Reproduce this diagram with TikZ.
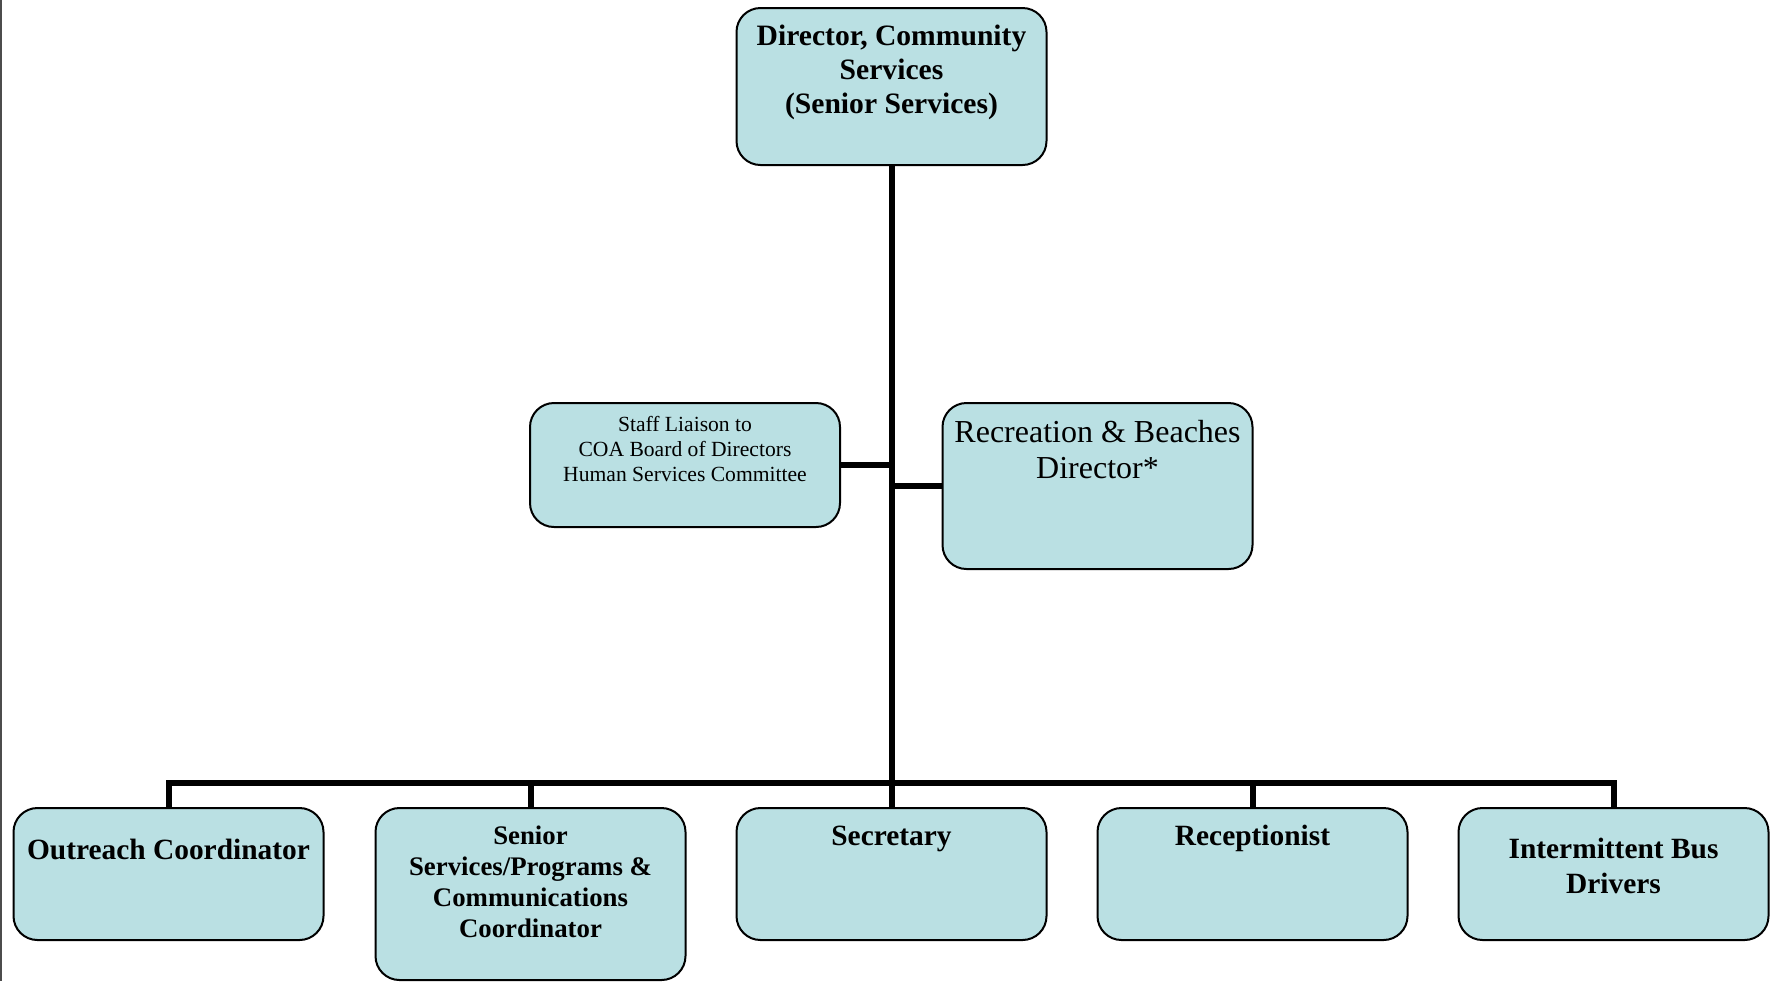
\documentclass[tikz,border=0pt]{standalone}
\usepackage{fontspec}
\setmainfont{Liberation Serif}
\definecolor{boxfill}{RGB}{186,224,227}
\begin{document}
\begin{tikzpicture}[x=0.5pt,y=-0.5pt,
  orgbox/.style={draw=black, line width=1pt, fill=boxfill, rounded corners=12pt,
    inner sep=0pt, minimum width=155pt},
  link/.style={draw=black, line width=3pt},
  label/.style={inner sep=0pt, align=center, text=black}]
\useasboundingbox (0,0) rectangle (1775,981);
% thin rule along the left edge
\draw[line width=0.6pt, black!70] (1,0) -- (1,981);

% boxes
\node[orgbox, minimum height=78.5pt] (top) at (891.5,86.5) {};
\node[orgbox, minimum height=62pt]   (liaison) at (685,465) {};
\node[orgbox, minimum height=83pt]   (rec) at (1097.5,486) {};
\node[orgbox, minimum height=66pt]   (out) at (168.5,874) {};
\node[orgbox, minimum height=86pt]   (ssp) at (530.5,894) {};
\node[orgbox, minimum height=66pt]   (sec) at (891.5,874) {};
\node[orgbox, minimum height=66pt]   (rcp) at (1252.5,874) {};
\node[orgbox, minimum height=66pt]   (bus) at (1613.5,874) {};

% texts
\node[label, font=\fontsize{14.8}{17}\selectfont\bfseries] (top-t) at (891.5,72.5)
  {Director, Community\\Services\\(Senior Services)};
\node[label, font=\fontsize{10.8}{12.5}\selectfont] (liaison-t) at (685,448.5)
  {Staff Liaison to\\COA Board of Directors\\Human Services Committee};
\node[label, font=\fontsize{16}{18}\selectfont] (rec-t) at (1097.5,450)
  {Recreation \& Beaches\\Director*};
\node[label, font=\fontsize{14.7}{17.5}\selectfont\bfseries] (out-t) at (168.5,849)
  {Outreach Coordinator};
\node[label, font=\fontsize{13.4}{15.5}\selectfont\bfseries] (ssp-t) at (530.5,881.5)
  {Senior\\Services/Programs \&\\Communications\\Coordinator};
\node[label, font=\fontsize{14.7}{17.5}\selectfont\bfseries] (sec-t) at (891.5,838.5)
  {Secretary};
\node[label, font=\fontsize{14.7}{17.5}\selectfont\bfseries] (rcp-t) at (1252.5,838.5)
  {Receptionist};
\node[label, font=\fontsize{14.7}{17.5}\selectfont\bfseries] (bus-t) at (1613.5,866)
  {Intermittent Bus\\Drivers};

% connectors
\coordinate (bar) at (891.5,783);
\draw[link] (top.south) -- (sec.north);
\draw[link] (liaison.east) -- (liaison.east -| top.south);
\draw[link] (rec.west) -- (rec.west -| top.south);
\draw[link, line join=miter] (out.north) |- (bar -| bus.north) -- (bus.north);
\draw[link] (ssp.north) -- (ssp.north |- bar);
\draw[link] (rcp.north) -- (rcp.north |- bar);
\end{tikzpicture}
\end{document}
